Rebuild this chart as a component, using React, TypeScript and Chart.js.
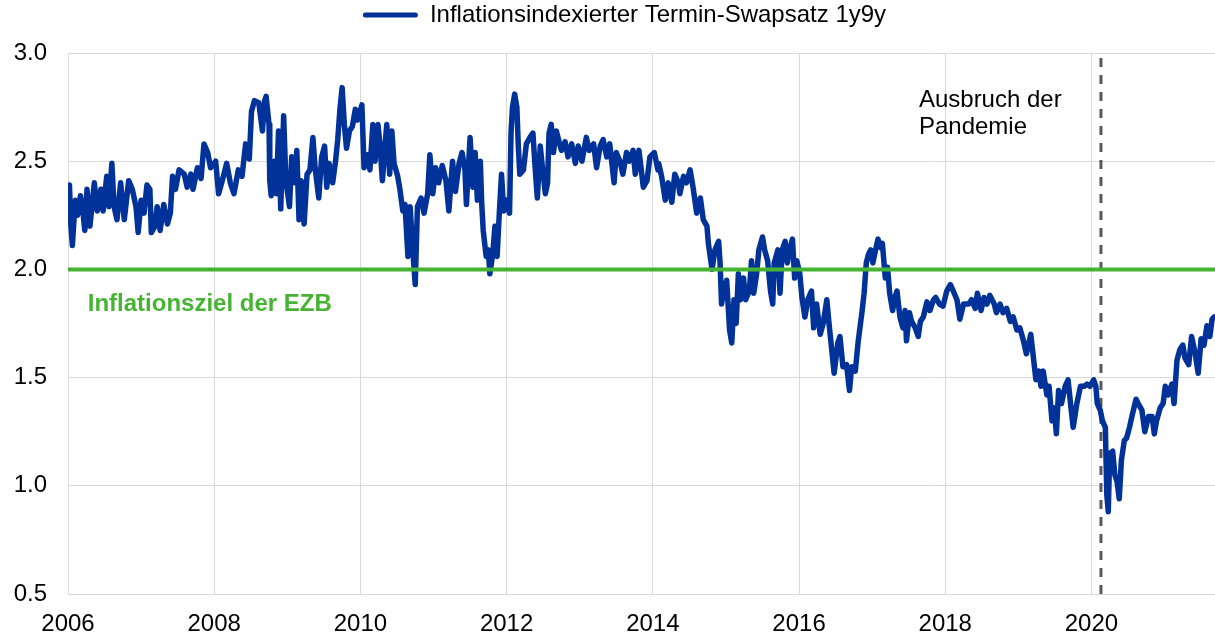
import React, { useEffect, useRef } from "react";
import { Chart, registerables } from "chart.js";

Chart.register(...registerables);

// Decimal-year dates of the 1y9y inflation-linked forward swap rate readings
const dates: number[] = [
  2006.00, 2006.02, 2006.04, 2006.06, 2006.08, 2006.10, 2006.13, 2006.17, 2006.20, 2006.23,
  2006.26, 2006.30, 2006.33, 2006.36, 2006.40, 2006.45, 2006.48, 2006.53, 2006.56, 2006.60,
  2006.63, 2006.67, 2006.72, 2006.77, 2006.83, 2006.88, 2006.93, 2006.96, 2007.00, 2007.04,
  2007.08, 2007.12, 2007.14, 2007.19, 2007.22, 2007.26, 2007.31, 2007.36, 2007.40, 2007.43,
  2007.47, 2007.52, 2007.59, 2007.63, 2007.68, 2007.71, 2007.77, 2007.82, 2007.86, 2007.91,
  2007.95, 2008.02, 2008.06, 2008.11, 2008.17, 2008.22, 2008.27, 2008.33, 2008.38, 2008.43,
  2008.48, 2008.51, 2008.55, 2008.61, 2008.66, 2008.69, 2008.71, 2008.75, 2008.76, 2008.78,
  2008.82, 2008.85, 2008.88, 2008.91, 2008.95, 2008.98, 2009.03, 2009.06, 2009.10, 2009.13,
  2009.16, 2009.19, 2009.23, 2009.27, 2009.31, 2009.35, 2009.38, 2009.43, 2009.47, 2009.51,
  2009.54, 2009.57, 2009.62, 2009.66, 2009.69, 2009.72, 2009.75, 2009.78, 2009.81, 2009.85,
  2009.89, 2009.93, 2009.96, 2010.02, 2010.05, 2010.10, 2010.13, 2010.17, 2010.20, 2010.24,
  2010.27, 2010.30, 2010.36, 2010.40, 2010.43, 2010.46, 2010.51, 2010.54, 2010.58, 2010.61,
  2010.65, 2010.68, 2010.72, 2010.75, 2010.78, 2010.83, 2010.87, 2010.92, 2010.95, 2010.99,
  2011.03, 2011.07, 2011.12, 2011.17, 2011.21, 2011.26, 2011.30, 2011.35, 2011.39, 2011.43,
  2011.45, 2011.50, 2011.54, 2011.57, 2011.60, 2011.64, 2011.66, 2011.68, 2011.72, 2011.75,
  2011.77, 2011.81, 2011.84, 2011.87, 2011.90, 2011.93, 2011.96, 2012.00, 2012.04, 2012.06,
  2012.08, 2012.11, 2012.14, 2012.16, 2012.18, 2012.23, 2012.27, 2012.32, 2012.36, 2012.39,
  2012.42, 2012.46, 2012.49, 2012.53, 2012.56, 2012.58, 2012.61, 2012.64, 2012.68, 2012.71,
  2012.75, 2012.80, 2012.84, 2012.89, 2012.94, 2012.98, 2013.03, 2013.09, 2013.13, 2013.19,
  2013.23, 2013.28, 2013.32, 2013.37, 2013.41, 2013.47, 2013.50, 2013.55, 2013.59, 2013.64,
  2013.68, 2013.73, 2013.76, 2013.81, 2013.87, 2013.92, 2013.96, 2014.02, 2014.07, 2014.08,
  2014.12, 2014.17, 2014.21, 2014.26, 2014.30, 2014.35, 2014.37, 2014.42, 2014.46, 2014.51,
  2014.55, 2014.60, 2014.65, 2014.69, 2014.74, 2014.76, 2014.78, 2014.81, 2014.85, 2014.90,
  2014.92, 2014.94, 2014.97, 2015.01, 2015.05, 2015.08, 2015.11, 2015.14, 2015.17, 2015.20,
  2015.24, 2015.27, 2015.32, 2015.35, 2015.38, 2015.42, 2015.45, 2015.50, 2015.53, 2015.57,
  2015.61, 2015.64, 2015.66, 2015.71, 2015.74, 2015.77, 2015.81, 2015.84, 2015.87, 2015.91,
  2015.94, 2015.97, 2016.01, 2016.04, 2016.08, 2016.12, 2016.17, 2016.20, 2016.24, 2016.29,
  2016.33, 2016.38, 2016.41, 2016.45, 2016.48, 2016.53, 2016.56, 2016.60, 2016.65, 2016.69,
  2016.72, 2016.77, 2016.81, 2016.86, 2016.89, 2016.92, 2016.95, 2016.98, 2017.01, 2017.04,
  2017.08, 2017.12, 2017.14, 2017.18, 2017.21, 2017.24, 2017.28, 2017.31, 2017.34, 2017.38,
  2017.42, 2017.45, 2017.47, 2017.51, 2017.54, 2017.59, 2017.63, 2017.66, 2017.70, 2017.75,
  2017.79, 2017.84, 2017.87, 2017.92, 2017.97, 2018.02, 2018.07, 2018.11, 2018.16, 2018.20,
  2018.25, 2018.32, 2018.36, 2018.41, 2018.44, 2018.49, 2018.53, 2018.57, 2018.61, 2018.67,
  2018.70, 2018.75, 2018.79, 2018.84, 2018.89, 2018.93, 2018.98, 2019.02, 2019.07, 2019.11,
  2019.17, 2019.21, 2019.24, 2019.28, 2019.31, 2019.34, 2019.39, 2019.42, 2019.46, 2019.49,
  2019.52, 2019.55, 2019.59, 2019.64, 2019.68, 2019.72, 2019.75, 2019.80, 2019.85, 2019.90,
  2019.94, 2019.98, 2020.03, 2020.06, 2020.08, 2020.12, 2020.15, 2020.19, 2020.21, 2020.23,
  2020.25, 2020.29, 2020.32, 2020.35, 2020.38, 2020.41, 2020.45, 2020.48, 2020.52, 2020.56,
  2020.61, 2020.64, 2020.69, 2020.73, 2020.78, 2020.83, 2020.86, 2020.89, 2020.94, 2020.98,
  2021.01, 2021.05, 2021.10, 2021.13, 2021.17, 2021.21, 2021.25, 2021.28, 2021.33, 2021.37,
  2021.42, 2021.46, 2021.50, 2021.54, 2021.58, 2021.62, 2021.65, 2021.68,
];

// Rate values (percent), one per date above
const values: number[] = [
  2.24, 2.39, 2.20, 2.11, 2.22, 2.32, 2.25, 2.34, 2.28, 2.18,
  2.37, 2.20, 2.30, 2.40, 2.27, 2.37, 2.27, 2.43, 2.29, 2.49,
  2.29, 2.23, 2.40, 2.23, 2.41, 2.37, 2.29, 2.17, 2.32, 2.26,
  2.39, 2.37, 2.17, 2.20, 2.29, 2.18, 2.30, 2.21, 2.26, 2.43,
  2.37, 2.46, 2.44, 2.38, 2.44, 2.37, 2.47, 2.42, 2.58, 2.54,
  2.47, 2.50, 2.35, 2.41, 2.49, 2.40, 2.35, 2.46, 2.43, 2.58,
  2.51, 2.73, 2.78, 2.77, 2.64, 2.78, 2.80, 2.67, 2.41, 2.34,
  2.50, 2.35, 2.64, 2.28, 2.71, 2.41, 2.29, 2.52, 2.40, 2.55,
  2.23, 2.41, 2.21, 2.44, 2.46, 2.61, 2.47, 2.33, 2.52, 2.57,
  2.38, 2.49, 2.40, 2.50, 2.60, 2.74, 2.84, 2.67, 2.56, 2.64,
  2.66, 2.74, 2.69, 2.76, 2.47, 2.53, 2.46, 2.67, 2.50, 2.67,
  2.57, 2.41, 2.67, 2.44, 2.64, 2.49, 2.43, 2.37, 2.27, 2.30,
  2.06, 2.29, 2.07, 1.93, 2.29, 2.33, 2.26, 2.35, 2.53, 2.35,
  2.47, 2.40, 2.48, 2.41, 2.27, 2.50, 2.36, 2.49, 2.54, 2.46,
  2.30, 2.61, 2.38, 2.54, 2.32, 2.50, 2.30, 2.18, 2.06, 2.09,
  1.98, 2.07, 2.20, 2.06, 2.26, 2.44, 2.27, 2.32, 2.26, 2.63,
  2.75, 2.81, 2.75, 2.57, 2.44, 2.46, 2.58, 2.61, 2.63, 2.47,
  2.33, 2.57, 2.47, 2.35, 2.40, 2.63, 2.67, 2.54, 2.64, 2.60,
  2.55, 2.59, 2.52, 2.58, 2.49, 2.57, 2.50, 2.61, 2.55, 2.58,
  2.47, 2.57, 2.60, 2.52, 2.58, 2.40, 2.54, 2.50, 2.44, 2.54,
  2.50, 2.55, 2.44, 2.55, 2.38, 2.41, 2.52, 2.54, 2.46, 2.49,
  2.43, 2.32, 2.40, 2.31, 2.44, 2.40, 2.35, 2.43, 2.40, 2.46,
  2.38, 2.26, 2.33, 2.23, 2.20, 2.12, 2.07, 2.00, 2.09, 2.13,
  2.03, 1.84, 1.90, 1.95, 1.72, 1.66, 1.86, 1.75, 1.98, 1.86,
  1.96, 1.86, 1.90, 2.04, 1.89, 1.98, 2.09, 2.15, 2.09, 2.04,
  1.90, 1.84, 2.03, 2.09, 1.89, 2.09, 2.13, 2.03, 2.09, 2.14,
  1.96, 2.04, 1.98, 1.87, 1.78, 1.86, 1.90, 1.73, 1.84, 1.70,
  1.75, 1.86, 1.75, 1.62, 1.52, 1.66, 1.69, 1.55, 1.56, 1.44,
  1.55, 1.53, 1.67, 1.80, 1.89, 2.03, 2.07, 2.09, 2.03, 2.08,
  2.14, 2.10, 2.12, 1.96, 2.01, 1.89, 1.81, 1.87, 1.90, 1.78,
  1.73, 1.81, 1.67, 1.80, 1.76, 1.73, 1.69, 1.76, 1.78, 1.85,
  1.81, 1.86, 1.87, 1.84, 1.83, 1.90, 1.93, 1.90, 1.86, 1.77,
  1.84, 1.84, 1.86, 1.82, 1.89, 1.81, 1.87, 1.84, 1.88, 1.84,
  1.80, 1.84, 1.80, 1.82, 1.76, 1.78, 1.72, 1.73, 1.67, 1.61,
  1.70, 1.58, 1.49, 1.53, 1.46, 1.53, 1.42, 1.46, 1.30, 1.36,
  1.24, 1.44, 1.38, 1.46, 1.49, 1.36, 1.27, 1.38, 1.46, 1.46,
  1.47, 1.46, 1.49, 1.46, 1.38, 1.35, 1.30, 1.27, 0.96, 0.88,
  1.15, 1.16, 1.05, 1.02, 0.94, 1.12, 1.21, 1.22, 1.27, 1.33,
  1.40, 1.38, 1.35, 1.25, 1.32, 1.32, 1.24, 1.30, 1.36, 1.38,
  1.46, 1.42, 1.47, 1.38, 1.58, 1.63, 1.65, 1.59, 1.56, 1.69,
  1.61, 1.52, 1.68, 1.65, 1.74, 1.69, 1.77, 1.78,
];

const seriesLabel = "Inflationsindexierter Termin-Swapsatz 1y9y";
const targetLabel = "Inflationsziel der EZB";
const pandemicLabelLines = ["Ausbruch der", "Pandemie"];

const targetLevel = 2.0;
const pandemicDate = 2020.13;

const xMin = 2006;
const xMax = 2021.69;
const xStep = 2;
const yMin = 0.5;
const yMax = 3.0;
const yStep = 0.5;

// annotation anchors in data coordinates
const targetLabelAt = { x: 2006.27, y: 1.81 };
const pandemicLabelAt = { x: 2017.64, y: [2.75, 2.625] };

const FONT = "'Liberation Sans', Arial, Helvetica, sans-serif";
const BLUE = "#003299";
const GREEN = "#46b432";
const GRID = "#d9d9d9";

export default function App() {
  const canvasRef = useRef<HTMLCanvasElement | null>(null);

  useEffect(() => {
    document.body.style.margin = "0";
    const canvas = canvasRef.current;
    if (!canvas) return;

    const annotationPlugin = {
      id: "textAnnotations",
      afterDatasetsDraw(chart: any) {
        const { ctx, scales } = chart;
        const x = scales.x;
        const y = scales.y;
        ctx.save();
        ctx.textAlign = "left";
        ctx.textBaseline = "alphabetic";
        ctx.font = `bold 24px ${FONT}`;
        ctx.fillStyle = GREEN;
        ctx.fillText(targetLabel, x.getPixelForValue(targetLabelAt.x), y.getPixelForValue(targetLabelAt.y));
        ctx.font = `24px ${FONT}`;
        ctx.fillStyle = "#000000";
        pandemicLabelLines.forEach((line, i) => {
          ctx.fillText(line, x.getPixelForValue(pandemicLabelAt.x), y.getPixelForValue(pandemicLabelAt.y[i]));
        });
        ctx.restore();
      },
    };

    const chart = new Chart(canvas, {
      type: "line",
      data: {
        datasets: [
          {
            label: seriesLabel,
            data: dates.map((d, i) => ({ x: d, y: values[i] })),
            borderColor: BLUE,
            backgroundColor: BLUE,
            borderWidth: 5.5,
            pointRadius: 0,
            tension: 0,
            borderJoinStyle: "round",
            borderCapStyle: "round",
            order: 1,
          },
          {
            label: targetLabel,
            data: [
              { x: xMin, y: targetLevel },
              { x: xMax, y: targetLevel },
            ],
            borderColor: GREEN,
            backgroundColor: GREEN,
            borderWidth: 4,
            pointRadius: 0,
            order: 0,
          },
          {
            label: "Pandemie",
            data: [
              { x: pandemicDate, y: yMin },
              { x: pandemicDate, y: yMax },
            ],
            borderColor: "#595959",
            backgroundColor: "#595959",
            borderWidth: 3,
            borderDash: [9, 8],
            pointRadius: 0,
            order: 2,
          },
        ],
      } as any,
      options: {
        responsive: false,
        animation: false,
        events: [],
        layout: { autoPadding: false, padding: { left: 0, right: 0, top: 0, bottom: 0 } },
        plugins: {
          tooltip: { enabled: false },
          legend: {
            display: true,
            position: "top",
            align: "center",
            labels: {
              padding: 3,
              boxWidth: 55,
              boxHeight: 5,
              color: "#000000",
              font: { family: FONT, size: 24 },
              useBorderRadius: true,
              borderRadius: 2.5,
              generateLabels: (c: any) =>
                (Chart.defaults.plugins.legend.labels as any)
                  .generateLabels(c)
                  .filter((l: any) => l.datasetIndex === 0)
                  .map((l: any) => ({ ...l, lineWidth: 0, fillStyle: BLUE, lineDash: [] })),
            },
          },
        },
        scales: {
          x: {
            type: "linear",
            min: xMin,
            max: xMax,
            grid: { color: GRID, lineWidth: 1, drawTicks: false },
            border: { color: GRID, width: 1 },
            ticks: {
              stepSize: xStep,
              includeBounds: false,
              autoSkip: false,
              maxRotation: 0,
              padding: 16,
              color: "#000000",
              font: { family: FONT, size: 24 },
              callback: (v: any) => String(v),
            },
            afterFit: (s: any) => {
              s.height = 42;
              s.paddingLeft = 0;
              s.paddingRight = 0;
            },
          },
          y: {
            type: "linear",
            min: yMin,
            max: yMax,
            grid: { color: GRID, lineWidth: 1, drawTicks: false },
            border: { color: GRID, width: 1 },
            ticks: {
              stepSize: yStep,
              padding: 21,
              color: "#000000",
              font: { family: FONT, size: 24 },
              callback: (v: any) => Number(v).toFixed(1),
            },
            afterFit: (s: any) => {
              s.width = 68;
            },
          },
        },
      } as any,
      plugins: [annotationPlugin],
    });

    const legend: any = (chart as any).legend;
    if (legend) {
      const fit = legend.fit.bind(legend);
      legend.fit = () => {
        fit();
        legend.height = 53;
      };
      const draw = legend.draw.bind(legend);
      legend.draw = (...args: any[]) => {
        const ctx = chart.ctx;
        ctx.save();
        ctx.translate(17, 0);
        draw(...args);
        ctx.restore();
      };
      chart.update();
    }

    return () => {
      chart.destroy();
    };
  }, []);

  return (
    <div style={{ position: "absolute", left: 0, top: 0, width: 1215, height: 636 }}>
      <canvas ref={canvasRef} width={1215} height={636} style={{ display: "block" }} />
    </div>
  );
}
